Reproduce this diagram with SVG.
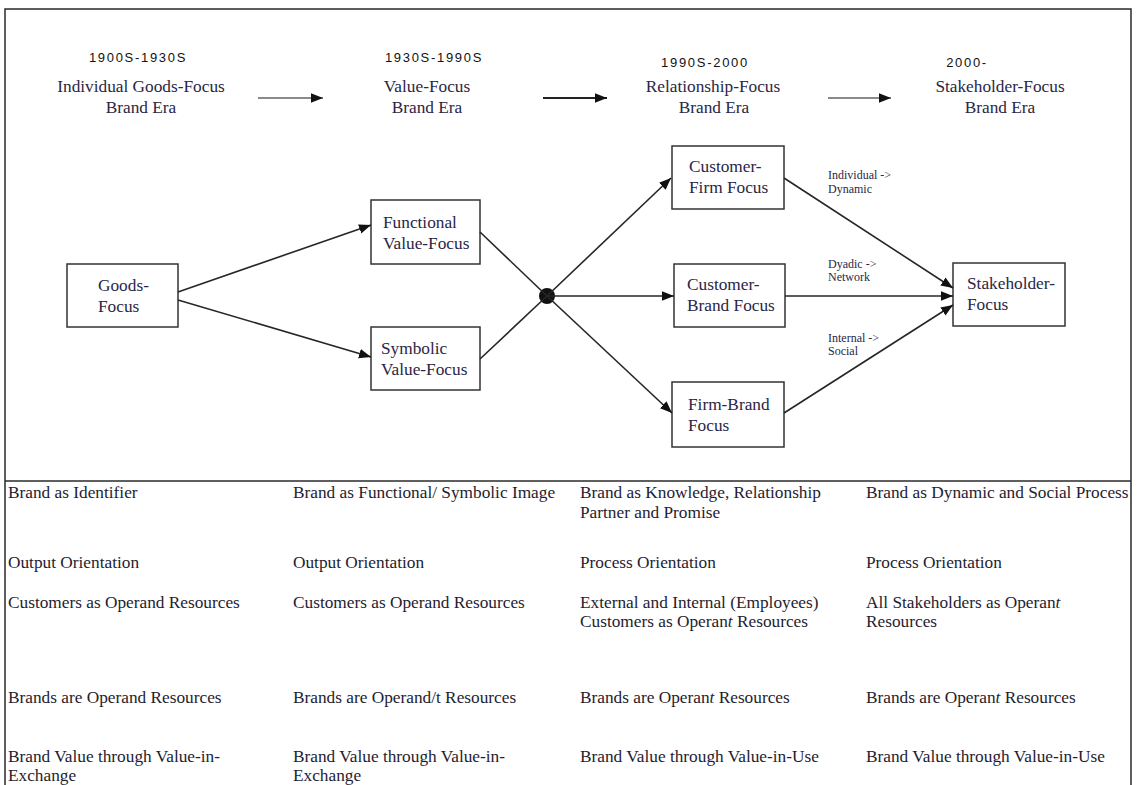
<svg xmlns="http://www.w3.org/2000/svg" width="1137" height="785" viewBox="0 0 1137 785">
  <style>
    .serif { font-family: "Liberation Serif", "Times New Roman", serif; fill: #2a2745; }
    .era { font-size: 17.3px; text-anchor: middle; }
    .year { font-family: "Liberation Sans", Arial, sans-serif; font-size: 13px; letter-spacing: 1.7px; fill: #111; text-anchor: middle; }
    .node rect { fill: #fff; stroke: #333; stroke-width: 1.5; }
    .node text { font-size: 17.3px; }
    .small { font-size: 12px; }
    .cell { font-size: 17.3px; fill: #1f1d30; }
    .conn { stroke: #262626; stroke-width: 1.6; fill: none; }
    .frame { stroke: #2a2a2a; stroke-width: 1.5; fill: none; }
  </style>
  <defs>
    <marker id="head" viewBox="0 0 10 8" refX="10" refY="4" markerWidth="12" markerHeight="10" markerUnits="userSpaceOnUse" orient="auto">
      <path d="M0,0 L10,4 L0,8 Z" fill="#111"/>
    </marker>
  </defs>

  <rect width="1137" height="785" fill="#fff"/>

  <!-- outer frame and the divider above the table -->
  <path class="frame" d="M5,790 V9 H1131 V790"/>
  <line class="frame" x1="5" y1="481" x2="1131" y2="481"/>

  <!-- era headings -->
  <g id="era-goods">
    <text class="year" x="138" y="62">1900S-1930S</text>
    <text class="serif era" x="141" y="92">Individual Goods-Focus</text>
    <text class="serif era" x="141" y="113">Brand Era</text>
  </g>
  <g id="era-value">
    <text class="year" x="434" y="62">1930S-1990S</text>
    <text class="serif era" x="427" y="92">Value-Focus</text>
    <text class="serif era" x="427" y="113">Brand Era</text>
  </g>
  <g id="era-relationship">
    <text class="year" x="705" y="67">1990S-2000</text>
    <text class="serif era" x="713" y="92">Relationship-Focus</text>
    <text class="serif era" x="714" y="113">Brand Era</text>
  </g>
  <g id="era-stakeholder">
    <text class="year" x="967" y="67">2000-</text>
    <text class="serif era" x="1000" y="92">Stakeholder-Focus</text>
    <text class="serif era" x="1000" y="113">Brand Era</text>
  </g>

  <!-- nodes -->
  <g id="goods-focus" class="node">
    <rect x="67" y="264" width="111" height="63"/>
    <text class="serif" x="98" y="291">Goods-</text>
    <text class="serif" x="98" y="312">Focus</text>
  </g>
  <g id="functional-value-focus" class="node">
    <rect x="371" y="200" width="109" height="64"/>
    <text class="serif" x="383" y="228">Functional</text>
    <text class="serif" x="383" y="249">Value-Focus</text>
  </g>
  <g id="symbolic-value-focus" class="node">
    <rect x="371" y="327" width="109" height="63"/>
    <text class="serif" x="381" y="354">Symbolic</text>
    <text class="serif" x="381" y="375">Value-Focus</text>
  </g>
  <g id="customer-firm-focus" class="node">
    <rect x="672" y="146" width="112" height="63"/>
    <text class="serif" x="689" y="172">Customer-</text>
    <text class="serif" x="689" y="193">Firm Focus</text>
  </g>
  <g id="customer-brand-focus" class="node">
    <rect x="674" y="264" width="111" height="63"/>
    <text class="serif" x="687" y="290">Customer-</text>
    <text class="serif" x="687" y="311">Brand Focus</text>
  </g>
  <g id="firm-brand-focus" class="node">
    <rect x="672" y="382" width="112" height="65"/>
    <text class="serif" x="688" y="410">Firm-Brand</text>
    <text class="serif" x="688" y="431">Focus</text>
  </g>
  <g id="stakeholder-focus" class="node">
    <rect x="953" y="263" width="112" height="63"/>
    <text class="serif" x="967" y="289">Stakeholder-</text>
    <text class="serif" x="967" y="310">Focus</text>
  </g>
  <g id="junction">
    <circle cx="547" cy="296" r="8" fill="#111"/>
  </g>

  <!-- connectors -->
  <g id="connectors">
    <line x1="258" y1="98" x2="323" y2="98" stroke="#8a8a8a" stroke-width="2" marker-end="url(#head)"/>
    <line x1="543" y1="98" x2="607" y2="98" stroke="#222" stroke-width="2" marker-end="url(#head)"/>
    <line x1="828" y1="98" x2="891" y2="98" stroke="#8a8a8a" stroke-width="2" marker-end="url(#head)"/>

    <line class="conn" x1="178" y1="292" x2="371" y2="225" marker-end="url(#head)"/>
    <line class="conn" x1="178" y1="300" x2="371" y2="357" marker-end="url(#head)"/>
    <line class="conn" x1="480" y1="232" x2="547" y2="296"/>
    <line class="conn" x1="480" y1="359" x2="547" y2="296"/>
    <line class="conn" x1="547" y1="296" x2="671" y2="178" marker-end="url(#head)"/>
    <line class="conn" x1="547" y1="296" x2="674" y2="296" marker-end="url(#head)"/>
    <line class="conn" x1="547" y1="296" x2="672" y2="413" marker-end="url(#head)"/>
    <line class="conn" x1="784" y1="178" x2="953" y2="288" marker-end="url(#head)"/>
    <line class="conn" x1="785" y1="296" x2="953" y2="296" marker-end="url(#head)"/>
    <line class="conn" x1="784" y1="413" x2="953" y2="305" marker-end="url(#head)"/>
  </g>

  <!-- connector labels -->
  <g id="connector-labels">
    <text class="serif small" x="828" y="179">Individual  -&gt;</text>
    <text class="serif small" x="828" y="193">Dynamic</text>
    <text class="serif small" x="828" y="268">Dyadic -&gt;</text>
    <text class="serif small" x="828" y="281">Network</text>
    <text class="serif small" x="828" y="342">Internal -&gt;</text>
    <text class="serif small" x="828" y="355">Social</text>
  </g>

  <!-- comparison table -->
  <g id="table">
    <text class="serif cell" x="8" y="498">Brand as Identifier</text>
    <text class="serif cell" x="293" y="498">Brand as Functional/ Symbolic Image</text>
    <text class="serif cell" x="580" y="498">Brand as Knowledge, Relationship</text>
    <text class="serif cell" x="580" y="518">Partner and Promise</text>
    <text class="serif cell" x="866" y="498">Brand as Dynamic and Social Process</text>

    <text class="serif cell" x="8" y="568">Output Orientation</text>
    <text class="serif cell" x="293" y="568">Output Orientation</text>
    <text class="serif cell" x="580" y="568">Process Orientation</text>
    <text class="serif cell" x="866" y="568">Process Orientation</text>

    <text class="serif cell" x="8" y="608">Customers as Operand Resources</text>
    <text class="serif cell" x="293" y="608">Customers as Operand Resources</text>
    <text class="serif cell" x="580" y="608">External and Internal (Employees)</text>
    <text class="serif cell" x="580" y="627">Customers as Operan<tspan font-style="italic">t</tspan> Resources</text>
    <text class="serif cell" x="866" y="608">All Stakeholders as Operan<tspan font-style="italic">t</tspan></text>
    <text class="serif cell" x="866" y="627">Resources</text>

    <text class="serif cell" x="8" y="703">Brands are Operand Resources</text>
    <text class="serif cell" x="293" y="703">Brands are Operand/t Resources</text>
    <text class="serif cell" x="580" y="703">Brands are Operan<tspan font-style="italic">t</tspan> Resources</text>
    <text class="serif cell" x="866" y="703">Brands are Operan<tspan font-style="italic">t</tspan> Resources</text>

    <text class="serif cell" x="8" y="762">Brand Value through Value-in-</text>
    <text class="serif cell" x="8" y="781">Exchange</text>
    <text class="serif cell" x="293" y="762">Brand Value through Value-in-</text>
    <text class="serif cell" x="293" y="781">Exchange</text>
    <text class="serif cell" x="580" y="762">Brand Value through Value-in-Use</text>
    <text class="serif cell" x="866" y="762">Brand Value through Value-in-Use</text>
  </g>
</svg>
